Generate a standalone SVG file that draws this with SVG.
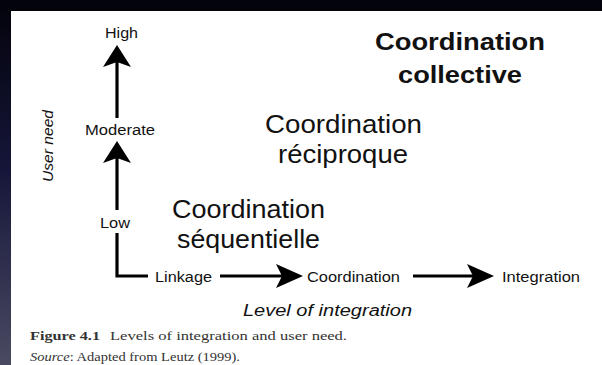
<svg xmlns="http://www.w3.org/2000/svg" width="602" height="365" viewBox="0 0 602 365">
  <defs>
    <linearGradient id="sideShade" x1="0" y1="0" x2="0" y2="1">
      <stop offset="0" stop-color="#04040e"/>
      <stop offset="0.45" stop-color="#16163a"/>
      <stop offset="1" stop-color="#4a4a62"/>
    </linearGradient>
    <style>
      .lbl { font-family: "Liberation Sans", Arial, sans-serif; fill: #111; }
      .small { font-size: 14px; }
      .big { font-size: 25px; }
      .bold { font-weight: bold; }
      .ital { font-style: italic; }
      .cap { font-family: "Liberation Serif", "Times New Roman", serif; fill: #333; font-size: 13.5px; }
      .shaft { stroke: #000; stroke-width: 3.2; fill: none; }
      .head { fill: #000; }
    </style>
  </defs>

  <!-- frame: dark slide backdrop with the white figure panel -->
  <rect x="0" y="0" width="602" height="365" fill="#03030c"/>
  <rect x="0" y="11" width="11" height="354" fill="url(#sideShade)"/>
  <rect x="11" y="11" width="591" height="354" fill="#ffffff"/>

  <!-- axes and level arrows -->
  <g id="connectors">
    <!-- Low -> Moderate -> High -->
    <line class="shaft" x1="117" y1="118" x2="117" y2="62"/>
    <path class="head" d="M117,45 L131,67 L117,62 L103,67 Z"/>
    <line class="shaft" x1="117" y1="210" x2="117" y2="158"/>
    <path class="head" d="M117,141 L131,163 L117,158 L103,163 Z"/>
    <!-- Low down to the integration axis -->
    <polyline class="shaft" points="117,233 117,276 148,276"/>
    <!-- Linkage -> Coordination -->
    <line class="shaft" x1="220" y1="276" x2="283" y2="276"/>
    <path class="head" d="M303,276 L276,264 L282,276 L276,288 Z"/>
    <!-- Coordination -> Integration -->
    <line class="shaft" x1="413" y1="276" x2="473" y2="276"/>
    <path class="head" d="M494,276 L467,264 L473,276 L467,288 Z"/>
  </g>

  <!-- user need levels -->
  <g id="need-high">
    <text class="lbl small" x="121.5" y="38" text-anchor="middle" textLength="33" lengthAdjust="spacingAndGlyphs">High</text>
  </g>
  <g id="need-moderate">
    <text class="lbl small" x="120" y="135" text-anchor="middle" textLength="70" lengthAdjust="spacingAndGlyphs">Moderate</text>
  </g>
  <g id="need-low">
    <text class="lbl small" x="115" y="228" text-anchor="middle" textLength="30" lengthAdjust="spacingAndGlyphs">Low</text>
  </g>
  <g id="axis-user-need">
    <text class="lbl ital" font-size="15.5" transform="translate(53,146) rotate(-90)" text-anchor="middle" textLength="72" lengthAdjust="spacingAndGlyphs">User need</text>
  </g>

  <!-- integration levels -->
  <g id="int-linkage">
    <text class="lbl small" x="155" y="282" textLength="57" lengthAdjust="spacingAndGlyphs">Linkage</text>
  </g>
  <g id="int-coordination">
    <text class="lbl small" x="307" y="282" textLength="93" lengthAdjust="spacingAndGlyphs">Coordination</text>
  </g>
  <g id="int-integration">
    <text class="lbl small" x="502" y="282" textLength="78" lengthAdjust="spacingAndGlyphs">Integration</text>
  </g>
  <g id="axis-level">
    <text class="lbl ital" font-size="16" x="243" y="316" textLength="169" lengthAdjust="spacingAndGlyphs">Level of integration</text>
  </g>

  <!-- coordination modes -->
  <g id="coord-collective">
    <text class="lbl bold" font-size="24" x="460" y="50" text-anchor="middle" textLength="170" lengthAdjust="spacingAndGlyphs">Coordination</text>
    <text class="lbl bold" font-size="24" x="460" y="83" text-anchor="middle" textLength="124" lengthAdjust="spacingAndGlyphs">collective</text>
  </g>
  <g id="coord-reciproque">
    <text class="lbl big" x="343.5" y="133" text-anchor="middle" textLength="157" lengthAdjust="spacingAndGlyphs">Coordination</text>
    <text class="lbl big" x="343" y="163" text-anchor="middle" textLength="130" lengthAdjust="spacingAndGlyphs">réciproque</text>
  </g>
  <g id="coord-sequentielle">
    <text class="lbl big" x="248.5" y="218" text-anchor="middle" textLength="153" lengthAdjust="spacingAndGlyphs">Coordination</text>
    <text class="lbl big" x="248.5" y="248" text-anchor="middle" textLength="143" lengthAdjust="spacingAndGlyphs">séquentielle</text>
  </g>

  <!-- figure caption -->
  <g id="caption">
    <text class="cap" x="30" y="340" font-weight="bold" fill="#111" font-size="14.5" textLength="70" lengthAdjust="spacingAndGlyphs">Figure 4.1</text>
    <text class="cap" x="110" y="340" textLength="237" lengthAdjust="spacingAndGlyphs">Levels of integration and user need.</text>
    <text class="cap" x="30" y="361" font-size="12.5" textLength="210" lengthAdjust="spacingAndGlyphs"><tspan font-style="italic">Source</tspan>: Adapted from Leutz (1999).</text>
  </g>
</svg>
